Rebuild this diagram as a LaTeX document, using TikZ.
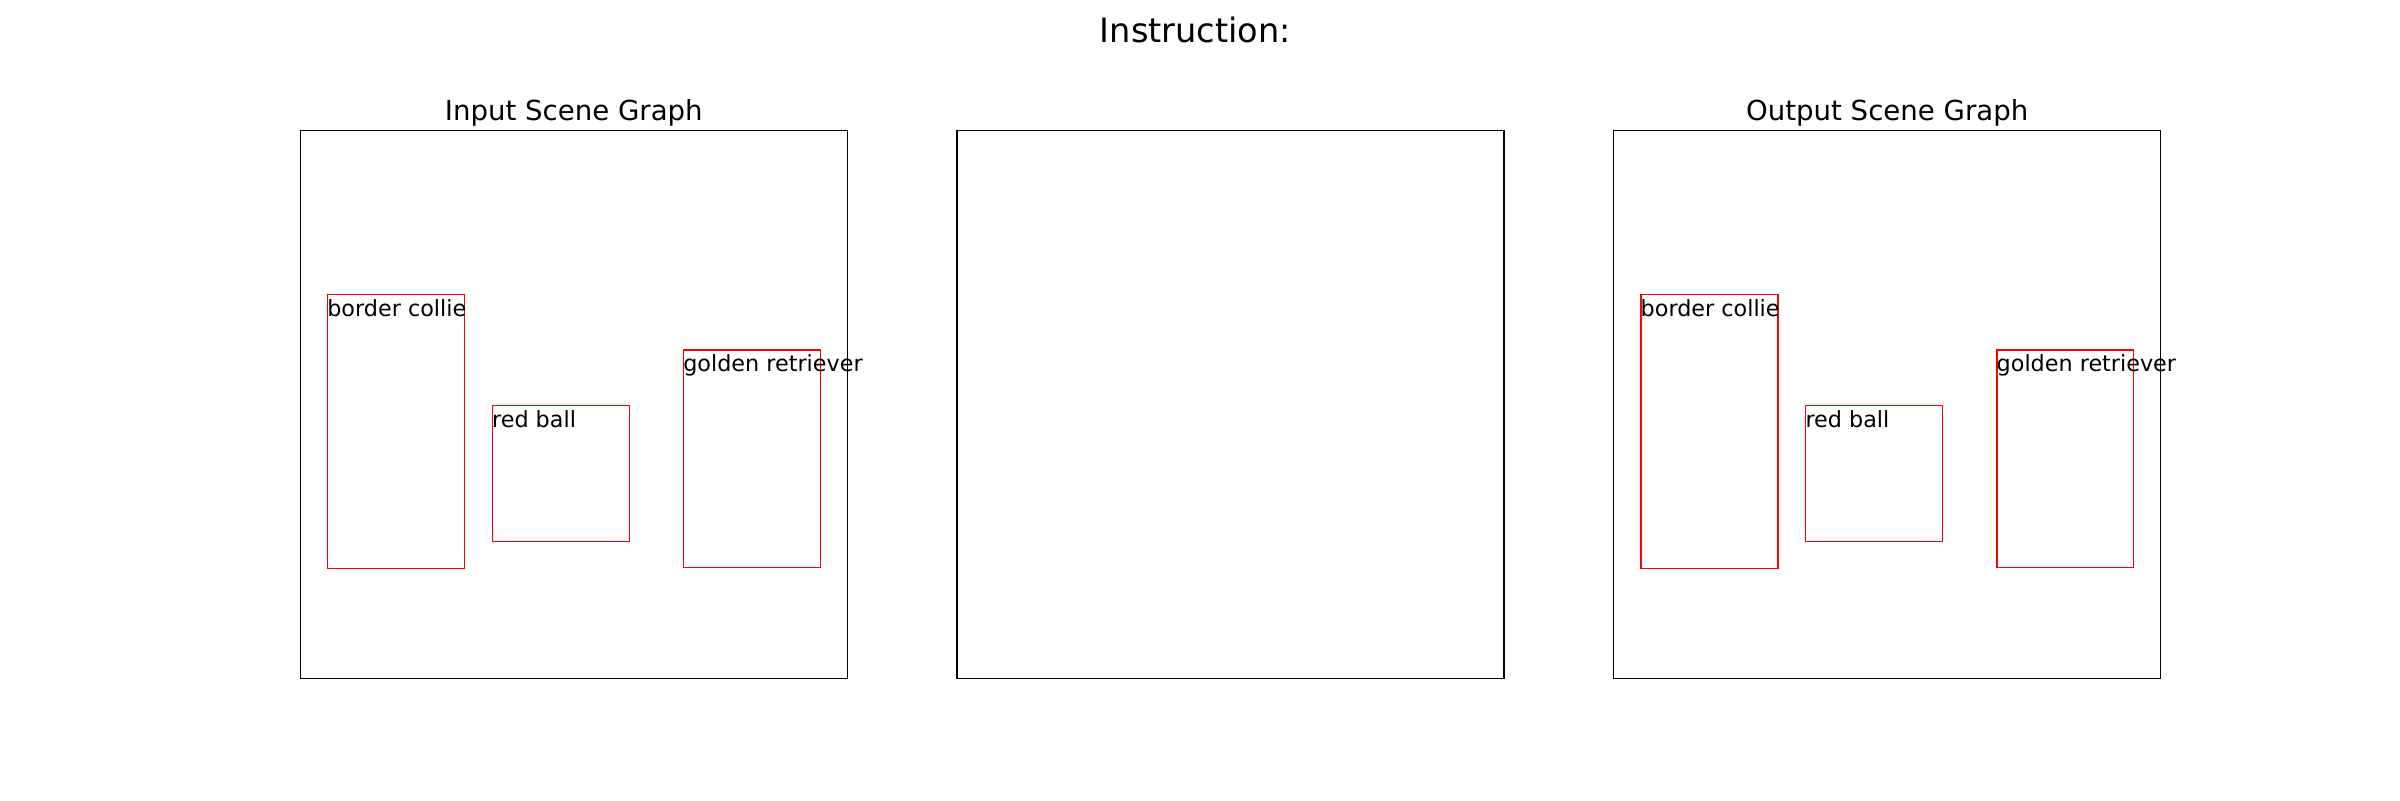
\documentclass[tikz,border=0pt]{standalone}
\usepackage{fontspec}
\setmainfont{DejaVu Sans}
\usetikzlibrary{positioning}

\tikzstyle{panel} = [rectangle, draw = black, line width = 0.6pt, minimum width = 273.5pt, minimum height = 274pt, inner sep = 0pt]
\tikzstyle{bbox} = [rectangle, draw = red, line width = 0.6pt, inner sep = 0pt, anchor = north west]
\tikzstyle{tag} = [inner sep = 0pt, anchor = base west, font = \fontsize{11.15}{13}\selectfont]
\tikzstyle{heading} = [inner sep = 0pt, font = \fontsize{13.8}{16}\selectfont]

\begin{document}
\begin{tikzpicture}[x = 0.5pt, y = -0.5pt]
    \useasboundingbox (0, 0) rectangle (2400, 800);
    \node(instruction)[inner sep = 0pt, anchor = base, font = \fontsize{16.8}{20}\selectfont] at (1195.4, 42.7) {Instruction:};
    % the three panels
    \node(input)[panel] at (573.8, 404.3) {};
    \node(middle)[panel, right = 54.25pt of input] {};
    \node(output)[panel, right = 54.25pt of middle] {};
    \node(input_title)[heading, above = 4.6pt of input.north, anchor = base] {Input Scene Graph};
    \node(output_title)[heading, above = 4.6pt of output.north, anchor = base] {Output Scene Graph};
    % boxes of the input scene graph
    \node(collie_in)[bbox, minimum width = 68.5pt, minimum height = 136.8pt] at ([xshift = 13.6pt, yshift = -82.1pt]input.north west) {};
    \node(ball_in)[bbox, minimum width = 68.5pt, minimum height = 67.8pt] at ([xshift = 96pt, yshift = -137.6pt]input.north west) {};
    \node(golden_in)[bbox, minimum width = 68.3pt, minimum height = 108.7pt] at ([xshift = 191.6pt, yshift = -109.8pt]input.north west) {};
    \node(collie_in_text)[tag] at ([yshift = -11.1pt]collie_in.north west) {border collie};
    \node(ball_in_text)[tag] at ([yshift = -11.1pt]ball_in.north west) {red ball};
    \node(golden_in_text)[tag] at ([yshift = -11.1pt]golden_in.north west) {golden retriever};
    % boxes of the output scene graph
    \node(collie_out)[bbox, minimum width = 68.5pt, minimum height = 136.8pt] at ([xshift = 13.6pt, yshift = -82.1pt]output.north west) {};
    \node(ball_out)[bbox, minimum width = 68.5pt, minimum height = 67.8pt] at ([xshift = 96pt, yshift = -137.6pt]output.north west) {};
    \node(golden_out)[bbox, minimum width = 68.3pt, minimum height = 108.7pt] at ([xshift = 191.6pt, yshift = -109.8pt]output.north west) {};
    \node(collie_out_text)[tag] at ([yshift = -11.1pt]collie_out.north west) {border collie};
    \node(ball_out_text)[tag] at ([yshift = -11.1pt]ball_out.north west) {red ball};
    \node(golden_out_text)[tag] at ([yshift = -11.1pt]golden_out.north west) {golden retriever};
\end{tikzpicture}
\end{document}
